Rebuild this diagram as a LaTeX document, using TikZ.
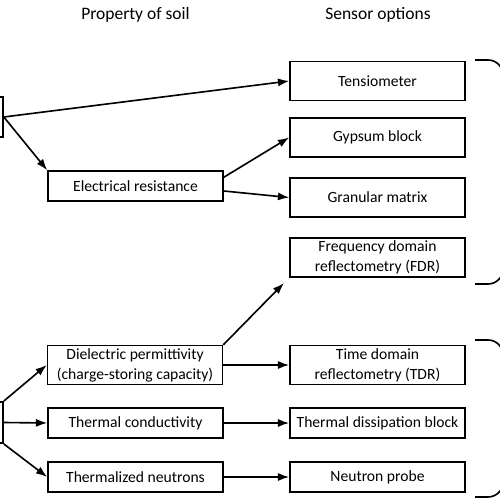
\documentclass[tikz,border=0pt]{standalone}
\usepackage{fontspec}
\setmainfont{Carlito}
\usetikzlibrary{arrows.meta}

\begin{document}
\begin{tikzpicture}[x=0.8pt,y=-0.8pt,>={Latex[length=9pt,width=6.5pt]},line width=1.3pt,
  box/.style={draw,minimum width=140pt,minimum height=24pt,inner sep=2pt,align=center,font=\fontsize{12.5}{16}\selectfont},
  tall/.style={box,minimum height=31pt},
  head/.style={font=\fontsize{14}{17}\selectfont}]
  \useasboundingbox (0,0) rectangle (500,500);
  \clip (0,0) rectangle (500,500);
  \node[head] (soilhead) at (135.5,15) {Property of soil};
  \node[head] (sensorhead) at (378,15) {Sensor options};
  % boxes cut off at the left edge
  \node[draw,minimum width=80pt,minimum height=32pt] (potential) at (-47,117) {};
  \node[draw,minimum width=80pt,minimum height=33pt] (content) at (-47,422.5) {};
  % property of soil
  \node[box] (elres) at (135.5,186) {Electrical resistance};
  \node[tall] (diel) at (135,365) {Dielectric permittivity\\(charge-storing capacity)};
  \node[box] (thcond) at (135.5,423) {Thermal conductivity};
  \node[box] (thneut) at (135.5,477) {Thermalized neutrons};
  % sensor options
  \node[tall] (tens) at (377.5,81) {Tensiometer};
  \node[tall] (gyps) at (377.5,137.5) {Gypsum block};
  \node[tall] (gran) at (377.5,197.5) {Granular matrix};
  \node[tall] (fdr) at (377.5,257.5) {Frequency domain\\reflectometry (FDR)};
  \node[tall] (tdr) at (377.5,365) {Time domain\\reflectometry (TDR)};
  \node[box] (tdb) at (377.5,423) {Thermal dissipation block};
  \node[box] (nprobe) at (377.5,477) {Neutron probe};
  % connectors
  \draw[->] (potential.east) -- (tens.west);
  \draw[->] (potential.east) -- (elres.north west);
  \draw[->] ([yshift=7pt]elres.east) -- (gyps.west);
  \draw[->] ([yshift=-4pt]elres.east) -- (gran.west);
  \draw[->,shorten >=6pt] (diel.north east) -- (fdr.south west);
  \draw[->] (diel.east) -- (tdr.west);
  \draw[->] (thcond.east) -- (tdb.west);
  \draw[->] (thneut.east) -- (nprobe.west);
  \draw[->] (content.north east) -- (diel.west);
  \draw[->] (content.east) -- (thcond.west);
  \draw[->] (content.south east) -- (thneut.west);
  % braces cut off at the right edge
  \draw[rounded corners=12pt] (475,60) -- (503,60) -- (503,284) -- (475,284);
  \draw[rounded corners=12pt] (475,340) -- (503,340) -- (503,497) -- (475,497);
\end{tikzpicture}
\end{document}
